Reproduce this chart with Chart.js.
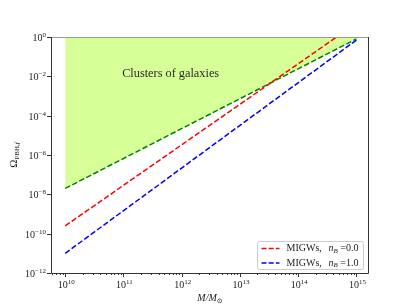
<!DOCTYPE html>
<html lang="en">
<head>
<meta charset="UTF-8">
<title>Omega PBH vs M</title>
<script src="https://cdn.jsdelivr.net/npm/chart.js"></script>
<style>
  html, body { margin: 0; padding: 0; background: #fff; }
  #wrap { width: 411px; height: 308px; }
</style>
</head>
<body>
<div id="wrap"><canvas id="omegaChart" width="411" height="308"></canvas></div>
<script>
// endpoints of each straight line (log-log)
const masses = [1e10, 1e15];
const clusterBound = [2e-8, 0.8];
const migwNb0 = [2.5e-10, 5];
const migwNb1 = [1e-11, 0.7];

const xMajor = [10, 11, 12, 13, 14, 15];      // exponents
const yMajor = [-12, -10, -8, -6, -4, -2, 0];  // exponents
const legendLabels = ['0.0', '1.0'];
const legendColors = ['#ff0000', '#0000ff'];

const SERIF = '"Liberation Serif", "DejaVu Serif", serif';
const pts = (ys) => masses.map((m, i) => ({ x: m, y: ys[i] }));

function drawPow(ctx, exp, x, y, align) {
    const base = '10', ex = String(exp).replace('-', '\u2212');
    ctx.font = '10px ' + SERIF;
    const wb = ctx.measureText(base).width;
    ctx.font = '7px ' + SERIF;
    const we = ctx.measureText(ex).width;
    const w = wb + we;
    let x0 = align === 'center' ? x - w / 2 : x - w;
    ctx.textAlign = 'left';
    ctx.textBaseline = 'alphabetic';
    ctx.font = '10px ' + SERIF;
    ctx.fillText(base, x0, y);
    ctx.font = '7px ' + SERIF;
    ctx.fillText(ex, x0 + wb, y - 4);
}

const decor = {
    id: 'decor',
    afterDraw(chart) {
        const ctx = chart.ctx;
        const a = chart.chartArea;
        const xs = chart.scales.x, ys = chart.scales.y;
        ctx.save();
        ctx.fillStyle = '#222';
        ctx.strokeStyle = '#222';

        // annotation
        ctx.font = '12.3px ' + SERIF;
        ctx.textAlign = 'center';
        ctx.textBaseline = 'middle';
        ctx.fillStyle = '#2a2a2a';
        ctx.fillText('Clusters of galaxies', xs.getPixelForValue(Math.pow(10, 11.81)), ys.getPixelForValue(Math.pow(10, -1.85)));

        // spines
        ctx.lineWidth = 1;
        ctx.strokeStyle = '#999';
        ctx.beginPath(); ctx.moveTo(a.left, a.top + 0.5); ctx.lineTo(a.right, a.top + 0.5); ctx.stroke();
        ctx.strokeStyle = '#333';
        ctx.beginPath();
        ctx.moveTo(a.left + 0.5, a.top); ctx.lineTo(a.left + 0.5, a.bottom + 0.5);
        ctx.lineTo(a.right - 0.5, a.bottom + 0.5); ctx.lineTo(a.right - 0.5, a.top);
        ctx.stroke();

        // x ticks
        ctx.fillStyle = '#222';
        for (let e = 9; e <= 15; e++) {
            for (let k = 1; k <= 9; k++) {
                const v = k * Math.pow(10, e);
                if (v < xs.min || v > xs.max) continue;
                const px = Math.round(xs.getPixelForValue(v)) + 0.5;
                const len = k === 1 ? 4 : 2;
                ctx.beginPath(); ctx.moveTo(px, a.bottom); ctx.lineTo(px, a.bottom + len); ctx.stroke();
            }
        }
        xMajor.forEach(e => drawPow(ctx, e, xs.getPixelForValue(Math.pow(10, e)) + 1, a.bottom + 15, 'center'));

        // y ticks
        yMajor.forEach(e => {
            const py = Math.round(ys.getPixelForValue(Math.pow(10, e))) + 0.5;
            ctx.beginPath(); ctx.moveTo(a.left - 4, py); ctx.lineTo(a.left, py); ctx.stroke();
            drawPow(ctx, e, a.left - 5, py + 3.5, 'right');
        });

        // axis titles
        ctx.font = 'italic 10px ' + SERIF;
        const wM = ctx.measureText('M/M').width;
        ctx.font = '7px ' + SERIF;
        const wS = ctx.measureText('\u2299').width;
        const cx = (a.left + a.right) / 2 - (wM + wS) / 2;
        ctx.textAlign = 'left';
        ctx.textBaseline = 'alphabetic';
        ctx.font = 'italic 10px ' + SERIF;
        ctx.fillText('M/M', cx, a.bottom + 28);
        ctx.font = '7px ' + SERIF;
        ctx.fillText('\u2299', cx + wM, a.bottom + 30);

        ctx.save();
        ctx.translate(17, (a.top + a.bottom) / 2);
        ctx.rotate(-Math.PI / 2);
        ctx.font = '11px ' + SERIF;
        const wO = ctx.measureText('\u03A9').width;
        ctx.font = '7px ' + SERIF;
        const wP = ctx.measureText('PBH,').width;
        ctx.font = 'italic 7px ' + SERIF;
        const wF = ctx.measureText('f').width;
        let tx = -(wO + wP + wF) / 2;
        ctx.font = '11px ' + SERIF;
        ctx.fillText('\u03A9', tx, 0);
        ctx.font = '7px ' + SERIF;
        ctx.fillText('PBH,', tx + wO, 2);
        ctx.font = 'italic 7px ' + SERIF;
        ctx.fillText('f', tx + wO + wP, 2);
        ctx.restore();

        // legend
        const bw = 106, bh = 28;
        const bx = a.right - 6 - bw + 0.5, by = a.bottom - 4 - bh + 0.5;
        ctx.fillStyle = 'rgba(255,255,255,0.8)';
        ctx.strokeStyle = '#ccc';
        ctx.beginPath();
        ctx.roundRect(bx, by, bw, bh, 2);
        ctx.fill(); ctx.stroke();
        legendLabels.forEach((lab, i) => {
            const ly = by + 7 + i * 14.5;
            ctx.strokeStyle = legendColors[i];
            ctx.lineWidth = 1.5;
            ctx.setLineDash([5, 2.2]);
            ctx.beginPath(); ctx.moveTo(bx + 4, ly); ctx.lineTo(bx + 22, ly); ctx.stroke();
            ctx.setLineDash([]);
            ctx.fillStyle = '#222';
            ctx.textBaseline = 'middle';
            ctx.font = '10px ' + SERIF;
            ctx.fillText('MIGWs,', bx + 29, ly);
            ctx.font = 'italic 10px ' + SERIF;
            ctx.fillText('n', bx + 71, ly);
            const wn = ctx.measureText('n').width;
            ctx.font = 'italic 7px ' + SERIF;
            ctx.fillText('B', bx + 71 + wn, ly + 2.5);
            const wb = ctx.measureText('B').width;
            ctx.font = '10px ' + SERIF;
            ctx.fillText(' =' + lab, bx + 71 + wn + wb, ly);
        });
        ctx.restore();
    }
};

new Chart(document.getElementById('omegaChart'), {
    type: 'line',
    data: {
        datasets: [
            {
                label: 'MIGWs, nB=0.0',
                data: pts(migwNb0),
                borderColor: '#ff0000',
                borderWidth: 1.5,
                borderDash: [5.5, 2.4],
                fill: false,
                pointRadius: 0
            },
            {
                label: 'Clusters of galaxies',
                data: pts(clusterBound),
                borderColor: '#008000',
                backgroundColor: '#d6ff97',
                borderWidth: 1.5,
                borderDash: [5.5, 2.4],
                fill: 'end',
                pointRadius: 0
            },
            {
                label: 'MIGWs, nB=1.0',
                data: pts(migwNb1),
                borderColor: '#0000ff',
                borderWidth: 1.5,
                borderDash: [5.5, 2.4],
                fill: false,
                pointRadius: 0
            }
        ]
    },
    options: {
        responsive: false,
        animation: false,
        layout: { padding: { top: 37, right: 42, left: 0, bottom: 0 } },
        plugins: {
            legend: { display: false },
            tooltip: { enabled: false },
            filler: { drawTime: 'beforeDatasetsDraw' }
        },
        scales: {
            x: {
                type: 'logarithmic',
                min: Math.pow(10, 9.756),
                max: Math.pow(10, 15.216),
                ticks: { display: false },
                grid: { display: false },
                border: { display: false },
                afterFit(s) { s.height = 35; }
            },
            y: {
                type: 'logarithmic',
                min: 1e-12,
                max: 1,
                ticks: { display: false },
                grid: { display: false },
                border: { display: false },
                afterFit(s) { s.width = 51; }
            }
        }
    },
    plugins: [decor]
});
</script>
</body>
</html>
